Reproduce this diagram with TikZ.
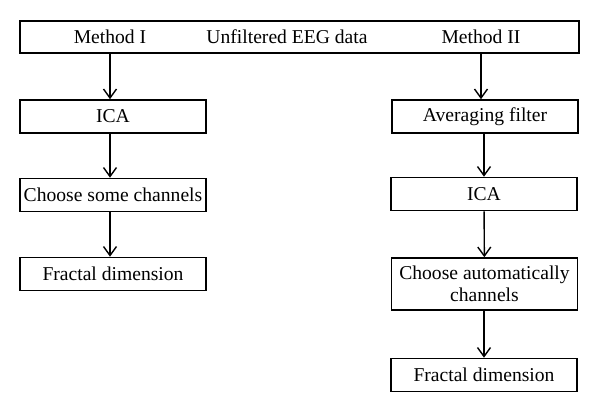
\documentclass[tikz,border=0pt]{standalone}
\usepackage{fontspec}
\setmainfont{Liberation Serif}
\usetikzlibrary{arrows.meta,positioning}
\tikzset{
    >={Straight Barb[length=4.5pt,width=6.5pt]},
    flowbox/.style={
        rectangle,
        draw=black, line width=0.8pt,
        minimum width=93pt,
        minimum height=16.5pt,
        inner sep=0pt,
        text centered
    },
    largeflowbox/.style={
        flowbox,
        minimum height=26pt,
        align=center
    },
    line/.style={draw, line width=0.7pt, ->},
    font={\fontsize{9.8pt}{11pt}\selectfont},
}

\begin{document}
\begin{tikzpicture}[x=0.5pt,y=-0.5pt]
\useasboundingbox (0,0) rectangle (600,413);
% top box with its three texts
\node[flowbox, minimum width=279.5pt, minimum height=16pt] (data) at (299.5,37) {};
\node[anchor=base] (mI) at (110,43.5) {Method I};
\node[anchor=base] (raw) at (287,43.5) {Unfiltered EEG data};
\node[anchor=base] (mII) at (481,43.5) {Method II};
% method I
\node[flowbox] (icaL) at (113,116.5) {ICA};
\node[flowbox] (chL) at (113,195) {Choose some channels};
\node[flowbox] (fdL) at (113,274) {Fractal dimension};
% method II
\node[flowbox] (avg) at (485,116.5) {Averaging filter};
\node[flowbox] (icaR) at (484,194) {ICA};
\node[largeflowbox] (chR) at (484.5,284) {Choose automatically\\channels};
\node[flowbox] (fdR) at (484,375) {Fractal dimension};
% arrows
\draw[line] (data.south -| mI) -- (mI |- icaL.north);
\draw[line] (icaL.south -| mI) -- (mI |- chL.north);
\draw[line] (chL.south -| mI) -- (mI |- fdL.north);
\draw[line] (data.south -| mII) -- (mII |- avg.north);
\draw[line] (avg.south -| icaR) -- (icaR.north);
\draw[line] (icaR) -- (chR);
\draw[line] (chR.south -| fdR) -- (fdR.north);
\end{tikzpicture}
\end{document}
